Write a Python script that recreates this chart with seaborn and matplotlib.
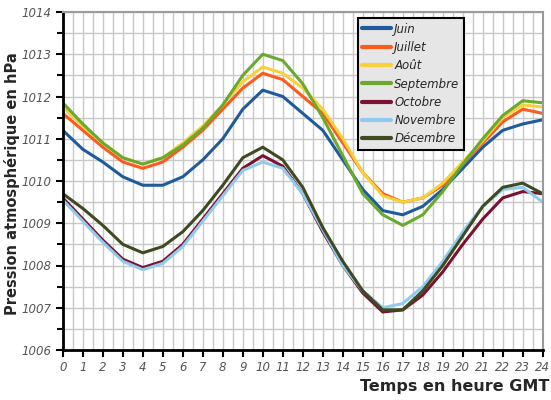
import seaborn as sns
import matplotlib.pyplot as plt
import pandas as pd
from matplotlib.ticker import MultipleLocator

heures = list(range(25))

juin = [1011.2, 1010.75, 1010.45, 1010.1, 1009.9, 1009.9, 1010.1, 1010.5, 1011.0, 1011.7, 1012.15,
        1012.0, 1011.6, 1011.2, 1010.5, 1009.8, 1009.3, 1009.2, 1009.4, 1009.8, 1010.3, 1010.8,
        1011.2, 1011.35, 1011.45]
juillet = [1011.6, 1011.2, 1010.8, 1010.45, 1010.3, 1010.45, 1010.8, 1011.2, 1011.7, 1012.2, 1012.55,
           1012.4, 1012.0, 1011.6, 1010.9, 1010.2, 1009.7, 1009.5, 1009.6, 1009.9, 1010.4, 1010.9,
           1011.4, 1011.7, 1011.6]
aout = [1011.75, 1011.3, 1010.9, 1010.55, 1010.4, 1010.55, 1010.9, 1011.3, 1011.8, 1012.35, 1012.7,
        1012.55, 1012.2, 1011.7, 1011.0, 1010.2, 1009.65, 1009.5, 1009.6, 1009.95, 1010.45, 1010.95,
        1011.5, 1011.8, 1011.75]
septembre = [1011.85, 1011.35, 1010.9, 1010.55, 1010.4, 1010.55, 1010.85, 1011.25, 1011.8, 1012.5, 1013.0,
             1012.85, 1012.3, 1011.5, 1010.6, 1009.7, 1009.2, 1008.95, 1009.2, 1009.75, 1010.4, 1011.0,
             1011.55, 1011.9, 1011.85]
octobre = [1009.6, 1009.1, 1008.6, 1008.15, 1007.95, 1008.1, 1008.5, 1009.1, 1009.7, 1010.3, 1010.6,
           1010.35, 1009.7, 1008.8, 1008.0, 1007.35, 1006.9, 1006.95, 1007.3, 1007.85, 1008.5, 1009.1,
           1009.6, 1009.75, 1009.7]
novembre = [1009.55, 1009.05, 1008.55, 1008.1, 1007.9, 1008.05, 1008.45, 1009.05, 1009.65, 1010.25, 1010.45,
            1010.3, 1009.7, 1008.85, 1008.0, 1007.4, 1007.0, 1007.1, 1007.5, 1008.1, 1008.8, 1009.4,
            1009.8, 1009.85, 1009.5]
decembre = [1009.7, 1009.35, 1008.95, 1008.5, 1008.3, 1008.45, 1008.8, 1009.3, 1009.9, 1010.55, 1010.8,
            1010.5, 1009.85, 1008.9, 1008.1, 1007.4, 1006.95, 1006.95, 1007.4, 1008.0, 1008.7, 1009.4,
            1009.85, 1009.95, 1009.7]

mois = ["Juin", "Juillet", "Août", "Septembre", "Octobre", "Novembre", "Décembre"]
series = [juin, juillet, aout, septembre, octobre, novembre, decembre]
couleurs = ["#1f5b9c", "#ff5a1e", "#f7d13a", "#69aa2e", "#7b1230", "#8fcbef", "#3e4a20"]

df = pd.DataFrame([(m, h, v) for m, s in zip(mois, series) for h, v in zip(heures, s)],
                  columns=["Mois", "Heure", "Pression"])

sns.set_theme(style="whitegrid")

fig = plt.figure(figsize=(5.51, 4), dpi=100)
ax = fig.add_axes([0.114, 0.125, 0.871, 0.845])

sns.lineplot(data=df, x="Heure", y="Pression", hue="Mois", hue_order=mois,
             palette=dict(zip(mois, couleurs)), linewidth=2.2, ax=ax)

ax.set_xlim(0, 24)
ax.set_ylim(1006, 1014)
ax.xaxis.set_major_locator(MultipleLocator(1))
ax.xaxis.set_minor_locator(MultipleLocator(0.5))
ax.yaxis.set_major_locator(MultipleLocator(1))
ax.yaxis.set_minor_locator(MultipleLocator(0.5))
ax.grid(which="both", color="#c8c8c8", linewidth=1)
ax.set_facecolor("white")

ax.tick_params(axis="both", which="major", length=5, width=1.5, color="black",
               labelsize=8.5, labelcolor="#555555", pad=3, bottom=True, left=True)
ax.tick_params(axis="y", which="minor", length=4, width=1.5, color="black", left=True)
for lab in ax.get_xticklabels() + ax.get_yticklabels():
    lab.set_fontstyle("italic")

for s in ["left", "bottom"]:
    ax.spines[s].set_color("black")
    ax.spines[s].set_linewidth(2)
for s in ["top", "right"]:
    ax.spines[s].set_color("#9a9a9a")
    ax.spines[s].set_linewidth(1.5)

ax.set_ylabel("")
ax.set_xlabel("")
fig.text(0.022, 0.54, "Pression atmosphérique en hPa", rotation=90, ha="center", va="center",
         fontsize=10.5, fontweight="bold")
fig.text(0.997, 0.015, "Temps en heure GMT", ha="right", va="bottom",
         fontsize=11.5, fontweight="bold")

leg = ax.legend(loc="upper left", bbox_to_anchor=(0.602, 1.0), frameon=True,
                prop={"style": "italic", "size": 8.5}, handlelength=2.4,
                borderpad=0.4, labelspacing=0.45, handletextpad=0.3, fancybox=False)
leg.get_frame().set_facecolor("#e6e6e6")
leg.get_frame().set_edgecolor("black")
leg.get_frame().set_linewidth(1.5)
leg.get_frame().set_alpha(1)
for line in leg.get_lines():
    line.set_linewidth(3)

plt.savefig("out.png", dpi=100)
